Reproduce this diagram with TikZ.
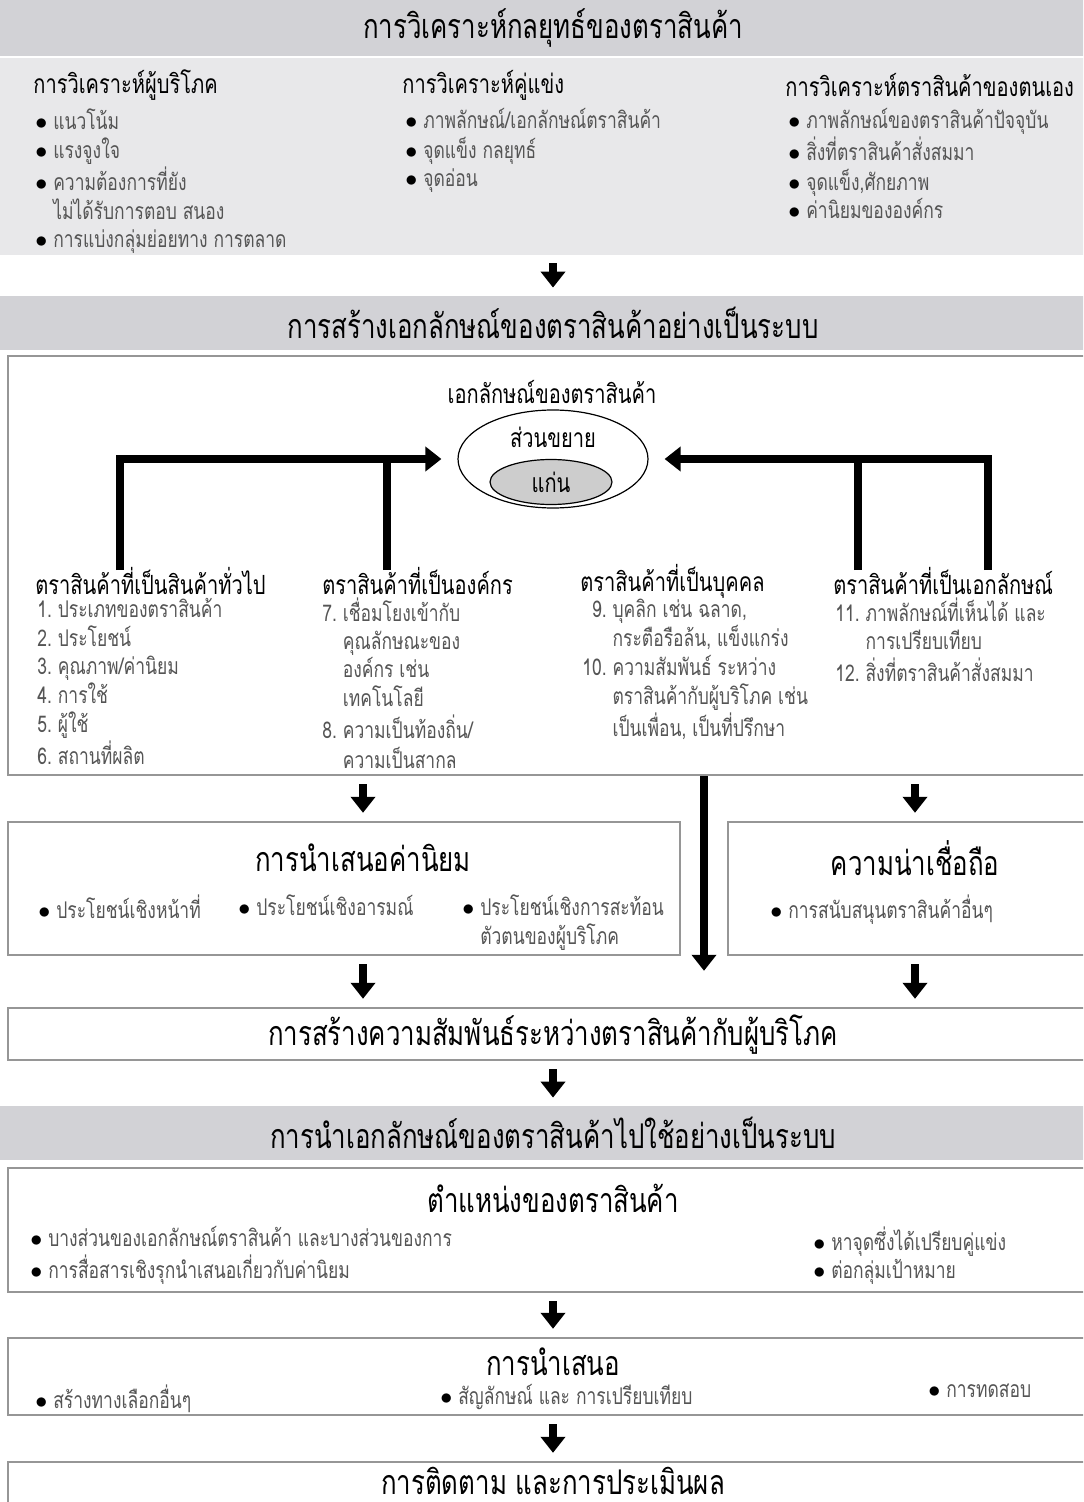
\documentclass[tikz,border=0pt]{standalone}
\usepackage{fontspec}
\setmainfont[Script=Thai,FakeStretch=0.76]{Loma}
\usetikzlibrary{arrows.meta,shapes.geometric,fit,calc}
\definecolor{bandgray}{RGB}{210,210,214}
\definecolor{panelgray}{RGB}{232,232,234}
\definecolor{linegray}{RGB}{150,150,150}
\definecolor{textgray}{RGB}{85,85,85}
\definecolor{coregray}{RGB}{205,205,205}
\newcommand{\bul}{\textcolor{black}{$\bullet$}}

\begin{document}
\begin{tikzpicture}[x=0.5pt, y=0.5pt, inner sep=0pt,
    band/.style={fill=bandgray, inner sep=0pt},
    panel/.style={fill=panelgray, inner sep=0pt},
    box/.style={draw=linegray, line width=1.2pt, fill=white, inner sep=0pt},
    title/.style={font=\fontsize{17}{20}\selectfont},
    head/.style={font=\fontsize{13.2}{16}\selectfont},
    list/.style={font=\fontsize{11.5}{14}\selectfont, text=textgray, align=left},
    flow/.style={line width=4pt, -{Triangle[length=8pt,width=12pt]}, shorten <=4pt, shorten >=4pt},
    bar/.style={line width=4pt}]
    \useasboundingbox (0,0) rectangle (1083,-1502);
    \fill[white] (0,0) rectangle (1083,-1502);
    \clip (0,0) rectangle (1083,-1502);

    % strategic brand analysis
    \node[band, fit={(0,0) (1106,-56)}] (stratband) {};
    \node[title] (strattitle) at (553,-28) {การวิเคราะห์กลยุทธ์ของตราสินค้า};
    \node[panel, fit={(0,-58) (1106,-255)}] (strat) {};
    \node[head, anchor=west] (conhead) at (33,-85) {การวิเคราะห์ผู้บริโภค};
    \node[list, anchor=north west] (conlist) at (35,-108) {\begin{tabular}{@{}l@{\ }l@{}}
        \bul & แนวโน้ม\\ \bul & แรงจูงใจ\\ \bul & ความต้องการที่ยัง\\ & ไม่ได้รับการตอบ สนอง\\
        \bul & การแบ่งกลุ่มย่อยทาง การตลาด\end{tabular}};
    \node[head, anchor=west] (comphead) at (402,-85) {การวิเคราะห์คู่แข่ง};
    \node[list, anchor=north west] (complist) at (405,-108) {\begin{tabular}{@{}l@{\ }l@{}}
        \bul & ภาพลักษณ์/เอกลักษณ์ตราสินค้า\\ \bul & จุดแข็ง กลยุทธ์\\ \bul & จุดอ่อน\end{tabular}};
    \node[head, anchor=west] (selfhead) at (785,-85) {การวิเคราะห์ตราสินค้าของตนเอง};
    \node[list, anchor=north west] (selflist) at (788,-108) {\begin{tabular}{@{}l@{\ }l@{}}
        \bul & ภาพลักษณ์ของตราสินค้าปัจจุบัน\\ \bul & สิ่งที่ตราสินค้าสั่งสมมา\\
        \bul & จุดแข็ง,ศักยภาพ\\ \bul & ค่านิยมขององค์กร\end{tabular}};

    % brand identity system
    \node[band, fit={(0,-296) (1106,-350)}] (build) {};
    \node[title] (buildtitle) at (553,-323) {การสร้างเอกลักษณ์ของตราสินค้าอย่างเป็นระบบ};
    \node[box, fit={(8,-356) (1098,-775)}] (identity) {};
    \node[head] (idtitle) at (552,-392) {เอกลักษณ์ของตราสินค้า};
    \node[draw, ellipse, line width=0.6pt, minimum width=95pt, minimum height=49pt] (outer) at (553,-459) {};
    \node[head] (outertext) at (553,-437) {ส่วนขยาย};
    \node[draw, ellipse, fill=coregray, line width=0.6pt, minimum width=61pt, minimum height=22.5pt, head] (core) at (551,-482) {แก่น};

    \node[head, anchor=west] (prodhead) at (35,-581) {ตราสินค้าที่เป็นสินค้าทั่วไป};
    \node[list, anchor=north west] (prodlist) at (37,-597) {\begin{tabular}{@{}l@{\ }l@{}}
        1. & ประเภทของตราสินค้า\\ 2. & ประโยชน์\\ 3. & คุณภาพ/ค่านิยม\\ 4. & การใช้\\ 5. & ผู้ใช้\\ 6. & สถานที่ผลิต\end{tabular}};
    \node[head, anchor=west] (orghead) at (322,-581) {ตราสินค้าที่เป็นองค์กร};
    \node[list, anchor=north west] (orglist) at (322,-597) {\begin{tabular}{@{}l@{\ }l@{}}
        7. & เชื่อมโยงเข้ากับ\\ & คุณลักษณะของ\\ & องค์กร เช่น\\ & เทคโนโลยี\\
        8. & ความเป็นท้องถิ่น/\\ & ความเป็นสากล\end{tabular}};
    \node[head, anchor=west] (personhead) at (580,-581) {ตราสินค้าที่เป็นบุคคล};
    \node[list, anchor=north west] (personlist) at (582,-597) {\begin{tabular}{@{}r@{\ }l@{}}
        9. & บุคลิก เช่น ฉลาด,\\ & กระตือรือล้น, แข็งแกร่ง\\ 10. & ความสัมพันธ์ ระหว่าง\\
        & ตราสินค้ากับผู้บริโภค เช่น\\ & เป็นเพื่อน, เป็นที่ปรึกษา\end{tabular}};
    \node[head, anchor=west] (symhead) at (833,-581) {ตราสินค้าที่เป็นเอกลักษณ์};
    \node[list, anchor=north west] (symlist) at (835,-597) {\begin{tabular}{@{}r@{\ }l@{}}
        11. & ภาพลักษณ์ที่เห็นได้ และ\\ & การเปรียบเทียบ\\ 12. & สิ่งที่ตราสินค้าสั่งสมมา\end{tabular}};

    \coordinate (prodfoot) at (120,-570);
    \coordinate (orgfoot) at (387,-570);
    \coordinate (personfoot) at (858,-570);
    \coordinate (symfoot) at (988,-570);
    \draw[flow, shorten <=0pt, shorten >=8pt] (prodfoot) |- (outer.west);
    \draw[bar] (orgfoot) -- (orgfoot |- outer.west);
    \draw[flow, shorten <=0pt, shorten >=8pt] (symfoot) |- (outer.east);
    \draw[bar] (personfoot) -- (personfoot |- outer.east);

    % value proposition and credibility
    \node[box, fit={(8,-822) (680,-955)}] (value) {};
    \node[title] (valuetitle) at (363,-858) {การนำเสนอค่านิยม};
    \node[list, anchor=north west] (valueA) at (38,-894) {\bul\ ประโยชน์เชิงหน้าที่};
    \node[list, anchor=north west] (valueB) at (238,-894) {\bul\ ประโยชน์เชิงอารมณ์};
    \node[list, anchor=north west] (valueC) at (462,-894) {\begin{tabular}{@{}l@{\ }l@{}}
        \bul & ประโยชน์เชิงการสะท้อน\\ & ตัวตนของผู้บริโภค\end{tabular}};
    \node[box, fit={(728,-822) (1098,-955)}] (cred) {};
    \node[title] (credtitle) at (915,-858) {ความน่าเชื่อถือ};
    \node[list, anchor=north west] (credlist) at (770,-894) {\bul\ การสนับสนุนตราสินค้าอื่นๆ};
    \coordinate (gap) at ($(value.east)!.5!(cred.west)$);

    % relationship
    \node[box, fit={(8,-1008) (1098,-1060)}] (relation) {};
    \node[title] (relationtitle) at (553,-1035) {การสร้างความสัมพันธ์ระหว่างตราสินค้ากับผู้บริโภค};

    % implementation
    \node[band, fit={(0,-1106) (1106,-1160)}] (apply) {};
    \node[title] (applytitle) at (553,-1133) {การนำเอกลักษณ์ของตราสินค้าไปใช้อย่างเป็นระบบ};
    \node[box, fit={(8,-1168) (1098,-1292)}] (position) {};
    \node[title] (positiontitle) at (553,-1198) {ตำแหน่งของตราสินค้า};
    \node[list, anchor=north west] (positionA) at (30,-1226) {\begin{tabular}{@{}l@{\ }l@{}}
        \bul & บางส่วนของเอกลักษณ์ตราสินค้า และบางส่วนของการ\\ \bul & การสื่อสารเชิงรุกนำเสนอเกี่ยวกับค่านิยม\end{tabular}};
    \node[list, anchor=north west] (positionB) at (813,-1226) {\begin{tabular}{@{}l@{\ }l@{}}
        \bul & หาจุดซึ่งได้เปรียบคู่แข่ง\\ \bul & ต่อกลุ่มเป้าหมาย\end{tabular}};
    \node[box, fit={(8,-1338) (1098,-1415)}] (present) {};
    \node[title] (presenttitle) at (553,-1362) {การนำเสนอ};
    \node[list, anchor=north west] (presentA) at (35,-1384) {\bul\ สร้างทางเลือกอื่นๆ};
    \node[list, anchor=north west] (presentB) at (440,-1384) {\bul\ สัญลักษณ์ และ การเปรียบเทียบ};
    \node[list, anchor=north west] (presentC) at (928,-1384) {\bul\ การทดสอบ};
    \node[box, fit={(8,-1462) (1098,-1540)}] (follow) {};
    \node[title] (followtitle) at (553,-1481) {การติดตาม และการประเมินผล};

    % flow arrows
    \draw[flow] (strat.south) -- (build.north);
    \draw[flow] (identity.south -| valuetitle) -- (value.north -| valuetitle);
    \draw[flow] (identity.south -| credtitle) -- (cred.north -| credtitle);
    \draw[flow, shorten <=0pt, shorten >=18pt] (identity.south -| gap) -- (relation.north -| gap);
    \draw[flow] (value.south -| valuetitle) -- (relation.north -| valuetitle);
    \draw[flow] (cred.south -| credtitle) -- (relation.north -| credtitle);
    \draw[flow] (relation.south) -- (apply.north);
    \draw[flow] (position.south) -- (present.north);
    \draw[flow] (present.south) -- (follow.north);
\end{tikzpicture}
\end{document}
